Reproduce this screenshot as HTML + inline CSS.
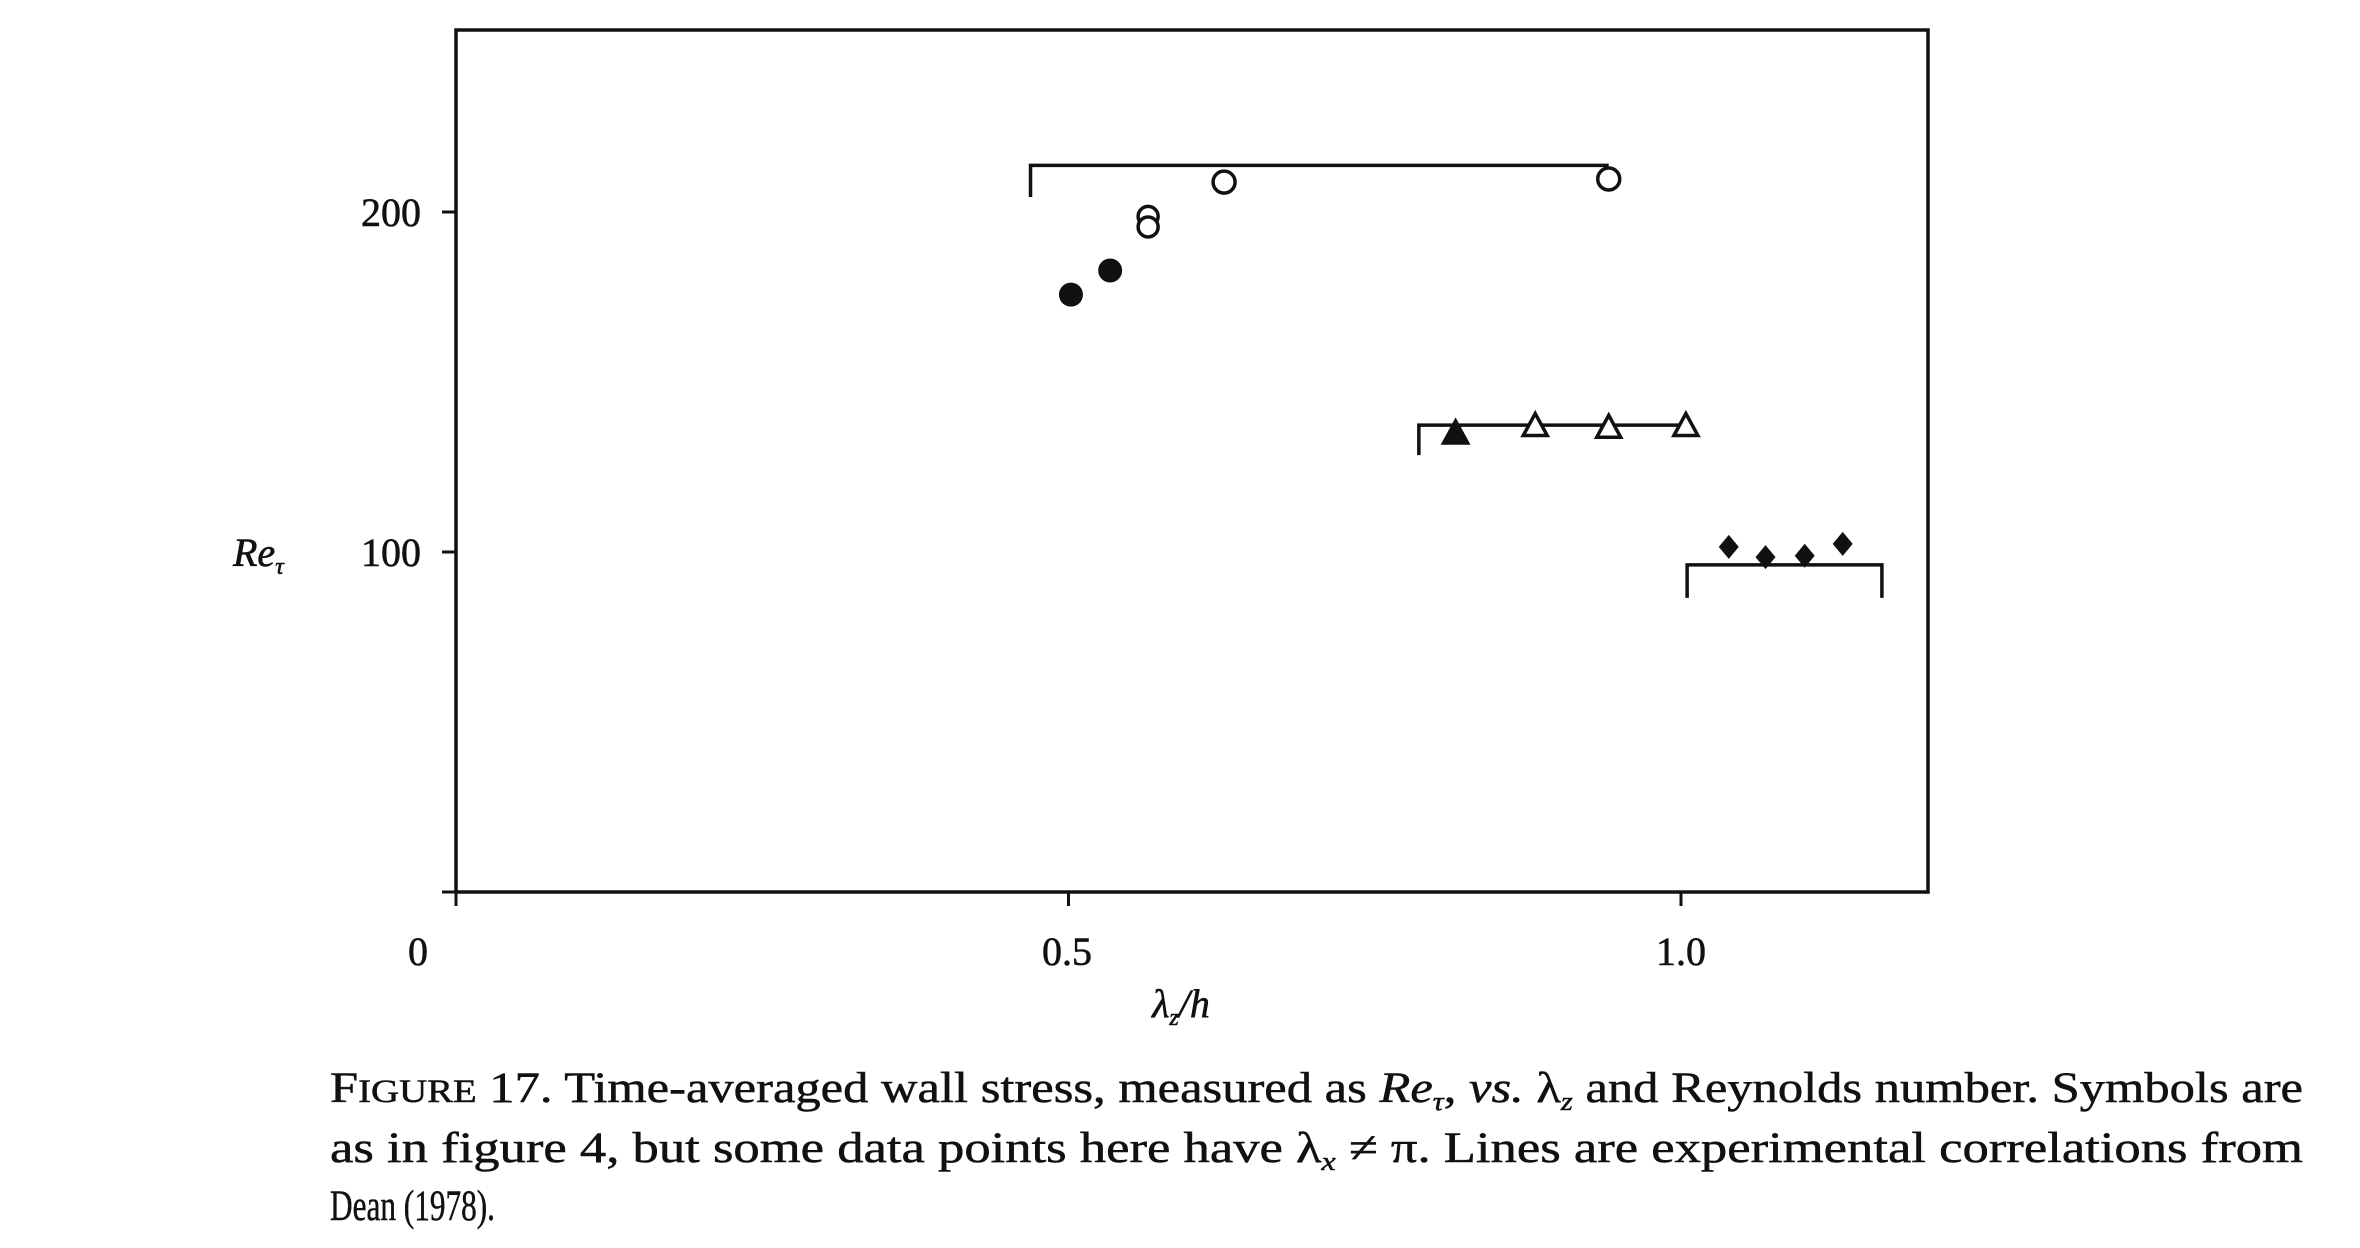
<!DOCTYPE html>
<html><head><meta charset="utf-8"><style>
html,body{margin:0;padding:0;background:#fff;}
svg{display:block;font-family:"Liberation Serif",serif;}
</style></head><body>
<svg id="chart" width="2360" height="1248" viewBox="0 0 2360 1248" xmlns="http://www.w3.org/2000/svg">
<g id="plot"></g>
<g font-size="40" fill="#111" stroke="#111" stroke-width="0.6">
<text x="391" y="226" text-anchor="middle">200</text>
<text x="391" y="566" text-anchor="middle">100</text>
<text x="233" y="566" font-style="italic">Re<tspan font-size="24" dy="8">τ</tspan></text>
<text x="418" y="965" text-anchor="middle">0</text>
<text x="1067" y="965" text-anchor="middle">0.5</text>
<text x="1681" y="965" text-anchor="middle">1.0</text>
<text x="1181" y="1017" text-anchor="middle" font-style="italic">λ<tspan font-size="24" dy="8">z</tspan><tspan dy="-8">/h</tspan></text>
</g>
<g font-size="43" fill="#111" stroke="#111" stroke-width="0.5">
<text x="330" y="1102" textLength="1973" lengthAdjust="spacingAndGlyphs">F<tspan font-size="33">IGURE</tspan> 17.  Time-averaged wall stress, measured as <tspan font-style="italic">Re<tspan font-size="26" dy="8">τ</tspan></tspan><tspan dy="-8">, </tspan><tspan font-style="italic">vs.</tspan> λ<tspan font-size="26" font-style="italic" dy="8">z</tspan><tspan dy="-8"> and Reynolds number. Symbols are</tspan></text>
<text x="330" y="1162" textLength="1973" lengthAdjust="spacingAndGlyphs">as in figure 4, but some data points here have λ<tspan font-size="26" font-style="italic" dy="8">x</tspan><tspan dy="-8"> ≠ π. Lines are experimental correlations from</tspan></text>
<text x="330" y="1220" textLength="165" lengthAdjust="spacingAndGlyphs">Dean (1978).</text>
</g>
</svg>
<script>
const openCircleX=[0.627,0.941];
const openCircleY=[208.8,209.7];
const barCircleX=[0.565,0.565];
const barCircleY=[198.7,195.6];
const filledCircleX=[0.502,0.534];
const filledCircleY=[175.7,182.8];
const filledTriX=[0.816];
const filledTriY=[134.7];
const openTriX=[0.881,0.941,1.004];
const openTriY=[136.9,136.4,136.9];
const diamondX=[1.039,1.069,1.101,1.132];
const diamondY=[101.5,98.5,98.9,102.4];
// brackets: x0, x1, line level, tick end level
const bracketX0=[0.469,0.786,1.005];
const bracketX1=[0.941,1.004,1.164];
const bracketY=[213.7,137.3,96.2];
const bracketTickY=[204.4,128.5,86.5];
const xTicks=[0,0.5,1.0];
const yTicks=[0,100,200];

const X=v=>456+v*1225;
const Y=v=>892-v*3.4;
const NS="http://www.w3.org/2000/svg";
const g=document.getElementById('plot');
function mk(tag,attrs){const e=document.createElementNS(NS,tag);for(const k in attrs)e.setAttribute(k,attrs[k]);g.appendChild(e);return e;}

let fr=mk('rect',{x:456,y:30,width:1472,height:862,fill:'none',stroke:'#111','stroke-width':3.5});


yTicks.forEach(t=>{const l=mk('line',{x1:442,x2:456,y1:Y(t),y2:Y(t),stroke:'#111','stroke-width':3});

});
xTicks.forEach(t=>{const l=mk('line',{x1:X(t),x2:X(t),y1:892,y2:906,stroke:'#111','stroke-width':3});

});

bracketX0.forEach((x0,i)=>{
  const x1=bracketX1[i];
  const d=`M${X(x0)},${Y(bracketTickY[i])}V${Y(bracketY[i])}H${X(x1)}`+(i===2?`V${Y(bracketTickY[i])}`:'');
  const p=mk('path',{d:d,fill:'none',stroke:'#111','stroke-width':3.5});
  
  
});
openCircleX.forEach((x,i)=>{const c=mk('circle',{cx:X(x),cy:Y(openCircleY[i]),r:11,fill:'#fff',stroke:'#111','stroke-width':3.5});

});
barCircleX.forEach((x,i)=>{const c=mk('circle',{cx:X(x),cy:Y(barCircleY[i]),r:10,fill:'#fff',stroke:'#111','stroke-width':3.5});

});
filledCircleX.forEach((x,i)=>{const c=mk('circle',{cx:X(x),cy:Y(filledCircleY[i]),r:12,fill:'#111'});

});
function tri(x,y,fill){const cx=X(x),cy=Y(y);return mk('path',{d:`M${cx},${cy-13}L${cx+12},${cy+9}L${cx-12},${cy+9}Z`,fill:fill,stroke:'#111','stroke-width':3.5,'stroke-linejoin':'miter'});}
filledTriX.forEach((x,i)=>{const t=tri(x,filledTriY[i],'#111');

});
openTriX.forEach((x,i)=>{const t=tri(x,openTriY[i],'#fff');

});
diamondX.forEach((x,i)=>{const cx=X(x),cy=Y(diamondY[i]);const d=mk('path',{d:`M${cx},${cy-12}L${cx+10},${cy}L${cx},${cy+12}L${cx-10},${cy}Z`,fill:'#111'});

});
</script>
</body></html>
